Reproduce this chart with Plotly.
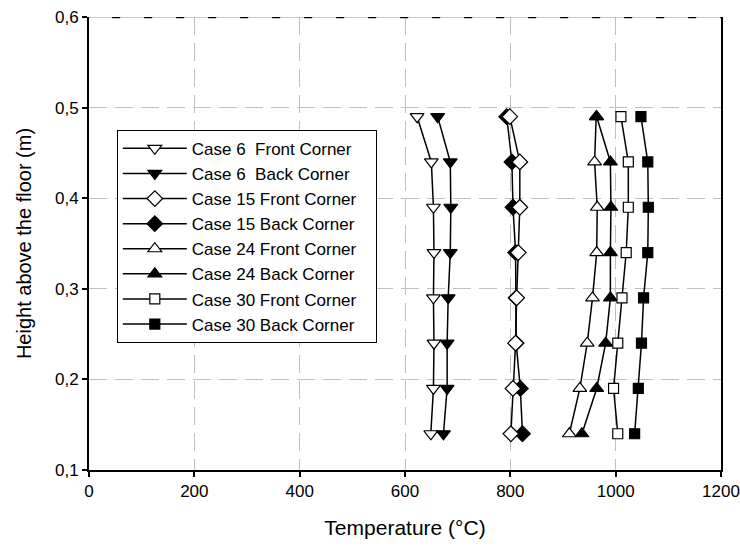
import plotly.graph_objects as go

heights = [0.14, 0.19, 0.24, 0.29, 0.34, 0.39, 0.44, 0.49]

case6_front = [649, 654, 655, 654, 655, 654, 650, 623]
case6_back = [673, 680, 680, 682, 686, 687, 686, 662]
case15_front = [801, 805, 810, 812, 815, 818, 818, 799]
case15_back = [823, 819, 811, 811, 810, 805, 803, 793]
case24_front = [912, 932, 946, 956, 964, 965, 960, 963]
case24_back = [936, 964, 981, 990, 990, 991, 990, 964]
case30_front = [1004, 996, 1004, 1012, 1020, 1024, 1024, 1010]
case30_back = [1036, 1043, 1049, 1053, 1061, 1062, 1061, 1048]

series_names = [
    "Case 6\u00a0\u00a0Front Corner",
    "Case 6\u00a0\u00a0Back Corner",
    "Case 15 Front Corner\u00a0\u00a0\u00a0",
    "Case 15 Back Corner",
    "Case 24 Front Corner",
    "Case 24 Back Corner",
    "Case 30 Front Corner",
    "Case 30 Back Corner",
]
series_values = [case6_front, case6_back, case15_front, case15_back,
                 case24_front, case24_back, case30_front, case30_back]
symbols = ["triangle-down", "triangle-down", "diamond", "diamond",
           "triangle-up", "triangle-up", "square", "square"]
fills = ["white", "black"] * 4
# drawing order (legend order kept via legendrank)
draw_order = [0, 1, 3, 2, 4, 5, 6, 7]

x_ticks = [0, 200, 400, 600, 800, 1000, 1200]
y_ticks = [0.1, 0.2, 0.3, 0.4, 0.5, 0.6]

FONT = "Liberation Sans, Arial, sans-serif"

fig = go.Figure()
for i in draw_order:
    name, vals, sym, fc = series_names[i], series_values[i], symbols[i], fills[i]
    fig.add_trace(go.Scatter(
        x=vals, y=heights, name=name, mode="lines+markers",
        legendgroup=f"g{i}", legendrank=i + 1,
        line=dict(color="black", width=1.5),
        marker=dict(symbol=sym, size=12 if sym != "square" else 10,
                    color=fc, line=dict(color="black", width=1.2)),
    ))

# top frame: grey line with black dashes
fig.add_shape(type="line", xref="paper", yref="y", x0=0, x1=1, y0=0.6, y1=0.6,
              line=dict(color="#9a9a9a", width=1), layer="above")
fig.add_shape(type="line", xref="x", yref="y", x0=44, x1=1200, y0=0.6, y1=0.6,
              line=dict(color="black", width=2.5, dash="8px,24px"), layer="above")

fig.update_layout(
    width=740, height=546,
    margin=dict(l=89, r=19, t=17, b=76),
    paper_bgcolor="white", plot_bgcolor="white",
    separators=",.",
    font=dict(family=FONT, color="black", size=17),
    showlegend=True,
    legend=dict(
        x=0.044, y=0.751, xanchor="left", yanchor="top",
        bordercolor="black", borderwidth=1, bgcolor="white",
        font=dict(family=FONT, size=17, color="black"),
        tracegroupgap=0, itemwidth=64,
    ),
    xaxis=dict(
        range=[0, 1200], tickvals=x_ticks, ticks="outside", ticklen=5,
        tickcolor="black", tickwidth=1.5, automargin=False,
        showline=True, linecolor="black", linewidth=2, mirror=False,
        showgrid=True, gridcolor="#c0c0c0", gridwidth=1, griddash="18px,8px",
        zeroline=False,
        tickfont=dict(family=FONT, size=17),
        title=dict(text="Temperature (°C)", font=dict(family=FONT, size=21), standoff=20),
    ),
    yaxis=dict(
        range=[0.1, 0.6], tickvals=y_ticks, tickformat=".1f", ticks="outside", ticklen=5,
        tickcolor="black", tickwidth=1.5, automargin=False,
        showline=True, linecolor="black", linewidth=2, mirror=True,
        showgrid=True, gridcolor="#c0c0c0", gridwidth=1, griddash="18px,8px",
        zeroline=False,
        tickfont=dict(family=FONT, size=17),
        title=dict(text="Height above the floor (m)", font=dict(family=FONT, size=20), standoff=18),
    ),
)

fig.write_html("out.html")
